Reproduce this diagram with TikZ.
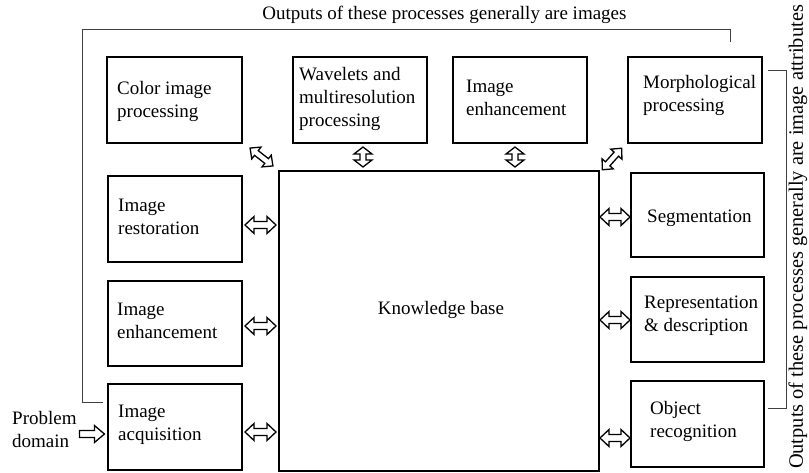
\documentclass[tikz,border=0pt]{standalone}
\usepackage{fontspec}
\setmainfont{Liberation Serif}
\usetikzlibrary{calc}
\tikzset{
  box/.style={draw, line width=1.8pt, inner sep=0pt},
  lbl/.style={anchor=base west, align=left, inner sep=0pt, font=\fontsize{19}{23}\selectfont},
  bracket/.style={draw=black!75, line width=1pt},
  arrline/.style={draw, line width=1.3pt, line join=miter, fill=white},
  pics/darr/.style n args={4}{code={
    \draw[arrline] (-#1,0) -- (-#1+#3,-#2) -- (-#1+#3,-#4) -- (#1-#3,-#4) -- (#1-#3,-#2) -- (#1,0)
      -- (#1-#3,#2) -- (#1-#3,#4) -- (-#1+#3,#4) -- (-#1+#3,#2) -- cycle;}},
  pics/sarr/.style n args={4}{code={
    \draw[arrline] (-#1,-#4) -- (#1-#3,-#4) -- (#1-#3,-#2) -- (#1,0) -- (#1-#3,#2) -- (#1-#3,#4) -- (-#1,#4) -- cycle;}}
}
\begin{document}
\begin{tikzpicture}[x=1pt,y=-1pt]
\useasboundingbox (0,0) rectangle (809,473);
% boxes
\node[box, minimum width=135pt, minimum height=86pt] (color) at (174.5,100) {};
\node[box, minimum width=134pt, minimum height=86pt] (wav) at (360,100) {};
\node[box, minimum width=134pt, minimum height=86pt] (enht) at (520,100) {};
\node[box, minimum width=134pt, minimum height=86pt] (morph) at (695,100) {};
\node[box, minimum width=320pt, minimum height=300pt] (kb) at (439,321) {};
\node[box, minimum width=134pt, minimum height=86pt] (rest) at (175,219) {};
\node[box, minimum width=134pt, minimum height=85pt] (enhl) at (175,323.5) {};
\node[box, minimum width=134pt, minimum height=86pt] (acq) at (175,427) {};
\node[box, minimum width=133pt, minimum height=84pt] (seg) at (697.5,215) {};
\node[box, minimum width=133pt, minimum height=85pt] (rep) at (697.5,319.5) {};
\node[box, minimum width=133pt, minimum height=86pt] (obj) at (697.5,424) {};
% texts (base = baseline of last line)
\node[lbl] (tcolor) at (117,118) {Color image\\processing};
\node[lbl] (twav) at (299,127) {Wavelets and\\multiresolution\\processing};
\node[lbl] (tenht) at (466,116) {Image\\enhancement};
\node[lbl] (tmorph) at (643,112) {Morphological\\processing};
\node[lbl] (trest) at (118,235) {Image\\restoration};
\node[lbl] (tenhl) at (117,338) {Image\\enhancement};
\node[lbl] (tacq) at (118,440) {Image\\acquisition};
\node[lbl] (tseg) at (647,223) {Segmentation};
\node[lbl] (trep) at (644,331) {Representation\\\& description};
\node[lbl] (tobj) at (650,437) {Object\\recognition};
\node[lbl, anchor=base] (tkb) at (441,315) {Knowledge base};
\node[lbl] (tprob) at (12,447) {Problem\\domain};
\node[lbl, anchor=base] (ttop) at (444.5,20) {Outputs of these processes generally are images};
\node[inner sep=0pt, rotate=90, font=\fontsize{20.4}{24}\selectfont] (tright) at (798,237) {Outputs of these processes generally are image attributes};
% brackets
\coordinate (b1) at (103,402);
\coordinate (b2) at (730,42);
\draw[bracket] (b1) -- (82,402) -- (82,30) -- (730,30) -- (b2);
\coordinate (c1) at (768,71);
\coordinate (c2) at (768,408);
\draw[bracket] (c1) -- (786,71) -- (786,408) -- (c2);
% arrows
\pic at ($(rest.east)!.5!(kb.west |- rest.east)+(0,6)$) {darr={15.5}{8.5}{9}{3.5}};
\pic at ($(enhl.east)!.5!(kb.west |- enhl.east)+(0,2.5)$) {darr={15.5}{8.5}{9}{3.5}};
\pic at ($(acq.east)!.5!(kb.west |- acq.east)+(0,5)$) {darr={15.5}{8.5}{9}{3.5}};
\pic at ($(kb.east |- seg.west)!.5!(seg.west)+(0,2)$) {darr={15}{8.5}{9}{3.5}};
\pic at ($(kb.east |- rep.west)!.5!(rep.west)+(0,0.5)$) {darr={15}{8.5}{9}{3.5}};
\pic at ($(kb.east |- obj.west)!.5!(obj.west)+(0,14)$) {darr={15}{8.5}{9}{3.5}};
\pic[rotate=90] at ($(wav.south)!.5!(wav.south |- kb.north)+(3,0)$) {darr={10}{9}{7}{3}};
\pic[rotate=90] at ($(enht.south)!.5!(enht.south |- kb.north)+(-5,0)$) {darr={10}{9}{7}{3}};
\pic[rotate=-38] at (261.5,157) {darr={14.5}{7.5}{8}{3}};
\pic[rotate=48] at (612,159) {darr={14.5}{7.5}{8}{3}};
\pic at ($(tprob.east |- acq.west)!.5!(acq.west)+(0,7)$) {sarr={12.5}{8.5}{10}{3.5}};
\end{tikzpicture}
\end{document}
